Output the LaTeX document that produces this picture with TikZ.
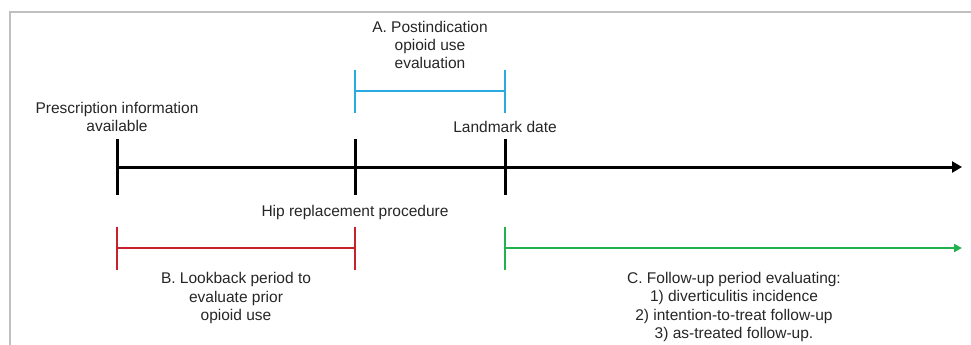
\documentclass[tikz,border=0pt]{standalone}
\usepackage{fontspec}
\setmainfont{Liberation Sans}
\usetikzlibrary{arrows.meta}
\definecolor{ablue}{RGB}{41,171,226}
\definecolor{bred}{RGB}{200,32,45}
\definecolor{cgreen}{RGB}{34,177,76}
\begin{document}
\begin{tikzpicture}[x=1pt, y=-1pt, >={Triangle[length=10pt,width=11pt]}]
    \tikzstyle{txt}=[inner sep=0pt, align=center, text=black!85, font=\fontsize{15.5}{18.3}\selectfont]
    \tikzstyle{axisline}=[line width=3pt]
    \tikzstyle{bar}=[line width=2.6pt]
    \useasboundingbox (0,0) rectangle (971,345);
    \draw[black!25, line width=1.5pt] (10,345) -- (10,12) -- (971,12);
    % time line
    \coordinate (pres) at (117,167);
    \coordinate (hip) at (355,167);
    \coordinate (land) at (505,167);
    \coordinate (tend) at (962,167);
    \draw[axisline, ->] (pres) -- (tend);
    \foreach \p in {pres, hip, land}
      \draw[axisline] ([yshift=28pt]\p) -- ([yshift=-28pt]\p);
    % periods
    \coordinate (a1) at (355,91); \coordinate (a2) at (505,91);
    \coordinate (b1) at (117,248); \coordinate (b2) at (355,248);
    \coordinate (c1) at (505,248); \coordinate (c2) at (962,248);
    \draw[bar, ablue] (a1) -- (a2);
    \draw[bar, bred] (b1) -- (b2);
    \draw[bar, cgreen, -{Triangle[length=8pt,width=8pt]}] (c1) -- (c2);
    \foreach \p/\c in {a1/ablue, a2/ablue, b1/bred, b2/bred, c1/cgreen}
      \draw[bar, \c] ([yshift=21.5pt]\p) -- ([yshift=-21.5pt]\p);
    % labels
    \node[txt] (ptxt) at (117,117) {Prescription information\\available};
    \node[txt] (ltxt) at (505,127) {Landmark date};
    \node[txt] (htxt) at (355,212) {Hip replacement procedure};
    \node[txt] (atxt) at (430,45) {A. Postindication\\opioid use\\evaluation};
    \node[txt] (btxt) at (236,298) {B. Lookback period to\\evaluate prior\\opioid use};
    \node[txt] (ctxt) at (734,307) {C. Follow-up period evaluating:\\1) diverticulitis incidence\\2) intention-to-treat follow-up\\3) as-treated follow-up.};
  \end{tikzpicture}
\end{document}
